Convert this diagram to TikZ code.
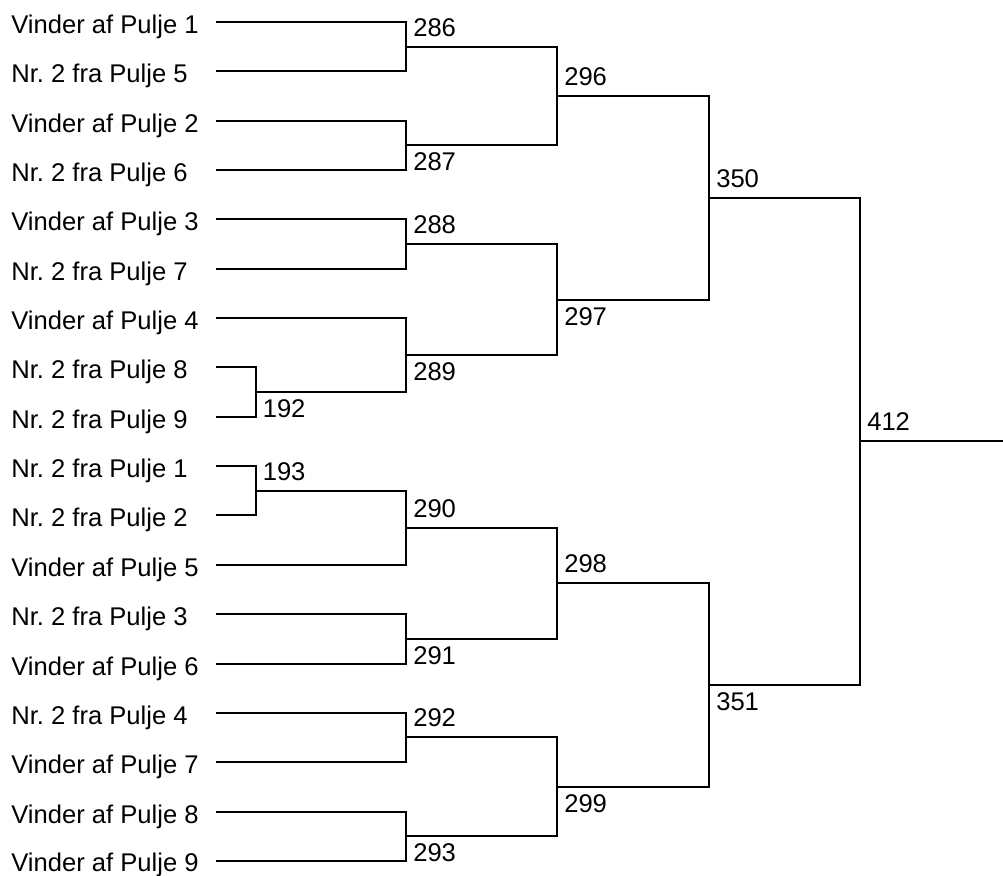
\documentclass[tikz,border=0pt]{standalone}
\usepackage{fontspec}
\setmainfont{Liberation Sans}
\frenchspacing
\begin{document}
\begin{tikzpicture}[x=0.75pt,y=-0.75pt,
  wire/.style={line width=1.2pt,line cap=rect},
  team/.style={anchor=base west,inner sep=0pt,font=\fontsize{19.2}{22}\selectfont},
  score/.style={anchor=base west,inner sep=0pt,font=\fontsize{19.2}{22}\selectfont}]
\useasboundingbox (0,0) rectangle (1003,875);
% team labels
\node[team] (t0)  at (11,33.3)  {Vinder af Pulje 1};
\node[team] (t1)  at (11,82.3)  {Nr. 2 fra Pulje 5};
\node[team] (t2)  at (11,132.3) {Vinder af Pulje 2};
\node[team] (t3)  at (11,181.3) {Nr. 2 fra Pulje 6};
\node[team] (t4)  at (11,230.3) {Vinder af Pulje 3};
\node[team] (t5)  at (11,280.3) {Nr. 2 fra Pulje 7};
\node[team] (t6)  at (11,329.3) {Vinder af Pulje 4};
\node[team] (t7)  at (11,378.3) {Nr. 2 fra Pulje 8};
\node[team] (t8)  at (11,428.3) {Nr. 2 fra Pulje 9};
\node[team] (t9)  at (11,477.3) {Nr. 2 fra Pulje 1};
\node[team] (t10) at (11,526.3) {Nr. 2 fra Pulje 2};
\node[team] (t11) at (11,576.3) {Vinder af Pulje 5};
\node[team] (t12) at (11,625.3) {Nr. 2 fra Pulje 3};
\node[team] (t13) at (11,675.3) {Vinder af Pulje 6};
\node[team] (t14) at (11,724.3) {Nr. 2 fra Pulje 4};
\node[team] (t15) at (11,773.3) {Vinder af Pulje 7};
\node[team] (t16) at (11,823.3) {Vinder af Pulje 8};
\node[team] (t17) at (11,871.5) {Vinder af Pulje 9};
% line starts
\coordinate (s0)  at (217,22);
\coordinate (s1)  at (217,71);
\coordinate (s2)  at (217,121);
\coordinate (s3)  at (217,170);
\coordinate (s4)  at (217,219);
\coordinate (s5)  at (217,269);
\coordinate (s6)  at (217,318);
\coordinate (s7)  at (217,367);
\coordinate (s8)  at (217,417);
\coordinate (s9)  at (217,466);
\coordinate (s10) at (217,515);
\coordinate (s11) at (217,565);
\coordinate (s12) at (217,614);
\coordinate (s13) at (217,664);
\coordinate (s14) at (217,713);
\coordinate (s15) at (217,762);
\coordinate (s16) at (217,812);
\coordinate (s17) at (217,861);
% junctions
\coordinate (j192) at (256,392);
\coordinate (j193) at (256,491);
\coordinate (j286) at (406,47);
\coordinate (j287) at (406,145);
\coordinate (j288) at (406,244);
\coordinate (j289) at (406,355);
\coordinate (j290) at (406,528);
\coordinate (j291) at (406,639);
\coordinate (j292) at (406,737);
\coordinate (j293) at (406,836);
\coordinate (j296) at (557,96);
\coordinate (j297) at (557,300);
\coordinate (j298) at (557,583);
\coordinate (j299) at (557,787);
\coordinate (j350) at (709,198);
\coordinate (j351) at (709,685);
\coordinate (j412) at (860,441);
\coordinate (end) at (1003,441);
% connectors
\draw[wire] (s7) -| (j192); \draw[wire] (s8) -| (j192);
\draw[wire] (s9) -| (j193); \draw[wire] (s10) -| (j193);
\draw[wire] (s0) -| (j286); \draw[wire] (s1) -| (j286);
\draw[wire] (s2) -| (j287); \draw[wire] (s3) -| (j287);
\draw[wire] (s4) -| (j288); \draw[wire] (s5) -| (j288);
\draw[wire] (s6) -| (j289); \draw[wire] (j192) -| (j289);
\draw[wire] (j193) -| (j290); \draw[wire] (s11) -| (j290);
\draw[wire] (s12) -| (j291); \draw[wire] (s13) -| (j291);
\draw[wire] (s14) -| (j292); \draw[wire] (s15) -| (j292);
\draw[wire] (s16) -| (j293); \draw[wire] (s17) -| (j293);
\draw[wire] (j286) -| (j296); \draw[wire] (j287) -| (j296);
\draw[wire] (j288) -| (j297); \draw[wire] (j289) -| (j297);
\draw[wire] (j290) -| (j298); \draw[wire] (j291) -| (j298);
\draw[wire] (j292) -| (j299); \draw[wire] (j293) -| (j299);
\draw[wire] (j296) -| (j350); \draw[wire] (j297) -| (j350);
\draw[wire] (j298) -| (j351); \draw[wire] (j299) -| (j351);
\draw[wire] (j350) -| (j412); \draw[wire] (j351) -| (j412);
\draw[wire] (j412) -- (end);
% scores
\node[score] (n192) at (262.5,417) {192};
\node[score] (n193) at (262.5,480.5) {193};
\node[score] (n286) at (413,36.2) {286};
\node[score] (n287) at (413,170) {287};
\node[score] (n288) at (413,233.5) {288};
\node[score] (n289) at (413,380) {289};
\node[score] (n290) at (413,517.5) {290};
\node[score] (n291) at (413,664) {291};
\node[score] (n292) at (413,726.5) {292};
\node[score] (n293) at (413,861) {293};
\node[score] (n296) at (564,85.5) {296};
\node[score] (n297) at (564,325) {297};
\node[score] (n298) at (564,572.5) {298};
\node[score] (n299) at (564,812) {299};
\node[score] (n350) at (716,187.5) {350};
\node[score] (n351) at (716,710) {351};
\node[score] (n412) at (867,430.5) {412};
\end{tikzpicture}
\end{document}
